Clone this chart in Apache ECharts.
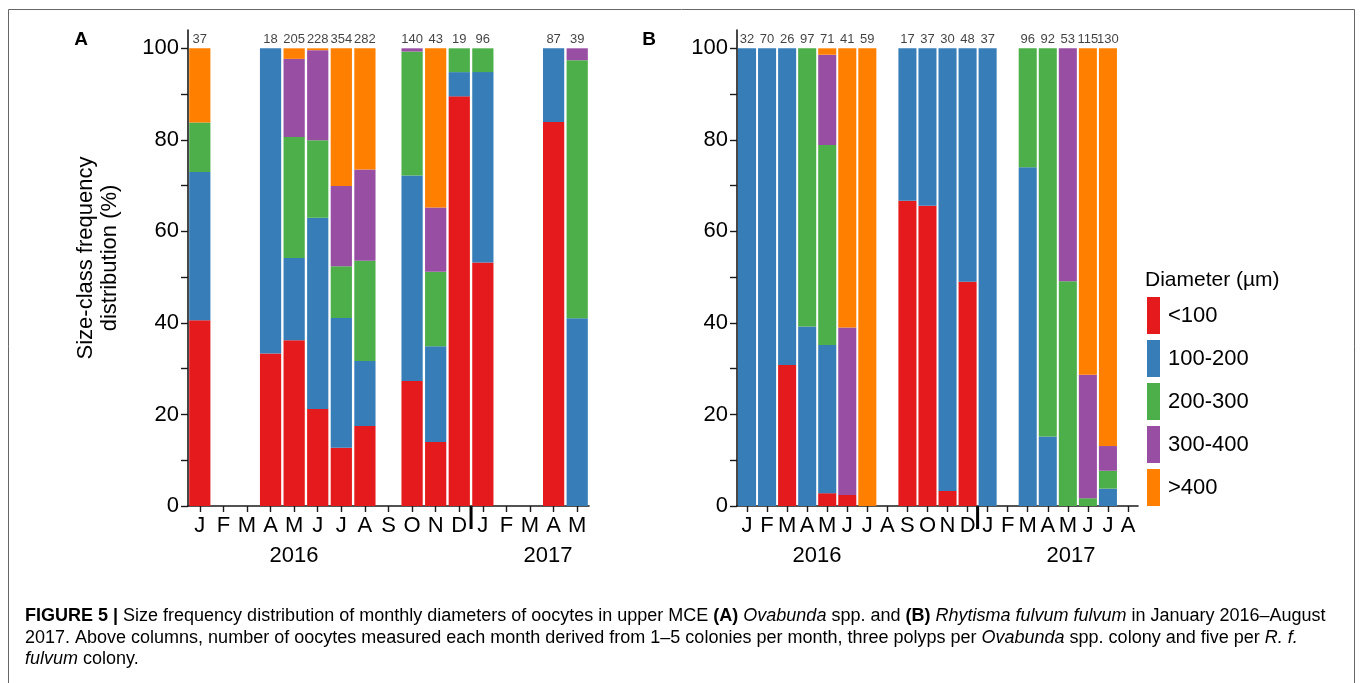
<!DOCTYPE html>
<html>
<head>
<meta charset="utf-8">
<script src="https://cdn.jsdelivr.net/npm/echarts@6/dist/echarts.min.js"></script>
<style>
html,body{margin:0;padding:0;background:#fff;}
#c{width:1360px;height:683px;}
</style>
</head>
<body>
<div id="c"></div>
<script>
// ---------- DATA ----------
const seriesNames = ['<100', '100-200', '200-300', '300-400', '>400'];
const colors = ['#E41A1C', '#377EB8', '#4DAF4A', '#984EA3', '#FF7F00'];

const monthsA = ['Jan16','Feb16','Mar16','Apr16','May16','Jun16','Jul16','Aug16','Sep16','Oct16','Nov16','Dec16',
                 'Jan17','Feb17','Mar17','Apr17','May17'];
const countsA = [37,null,null,18,205,228,354,282,null,140,43,19,96,null,null,87,39];
const aLt100  = [40.6,null,null,33.3,36.2,21.2,12.7,17.5,null,27.3,14.0,89.5,53.2,null,null,83.9,0];
const a100200 = [32.4,null,null,66.7,18.0,41.8,28.4,14.2,null,44.9,20.9,5.3,41.6,null,null,16.1,41.0];
const a200300 = [10.8,null,null,0,26.4,16.9,11.3,21.9,null,27.1,16.3,5.2,5.2,null,null,0,56.4];
const a300400 = [0,null,null,0,17.1,19.7,17.5,19.9,null,0.7,14.0,0,0,null,null,0,2.6];
const aGt400  = [16.2,null,null,0,2.3,0.4,30.1,26.5,null,0,34.8,0,0,null,null,0,0];

const monthsB = ['Jan16','Feb16','Mar16','Apr16','May16','Jun16','Jul16','Aug16','Sep16','Oct16','Nov16','Dec16',
                 'Jan17','Feb17','Mar17','Apr17','May17','Jun17','Jul17','Aug17'];
const countsB = [32,70,26,97,71,41,59,null,17,37,30,48,37,null,96,92,53,115,130,null];
const bLt100  = [0,0,30.8,0,2.8,2.4,0,null,66.7,65.6,3.3,49.0,0,null,0,0,0,0,0,null];
const b100200 = [100,100,69.2,39.2,32.4,0,0,null,33.3,34.4,96.7,51.0,100,null,74.0,15.2,0,0,3.8,null];
const b200300 = [0,0,0,60.8,43.7,0,0,null,0,0,0,0,0,null,26.0,84.8,49.1,1.7,3.9,null];
const b300400 = [0,0,0,0,19.7,36.6,0,null,0,0,0,0,0,null,0,0,50.9,27.0,5.4,null];
const bGt400  = [0,0,0,0,1.4,61.0,100,null,0,0,0,0,0,null,0,0,0,71.3,86.9,null];

const yTicks = [0,10,20,30,40,50,60,70,80,90,100];
const yLabels = [0,20,40,60,80,100];

// ---------- CHART ----------
const chart = echarts.init(document.getElementById('c'), null, {renderer: 'canvas'});
const FONT = 'Liberation Sans, Arial, Helvetica, sans-serif';
const AX = '#1a1a1a';

function xAxisCfg(idx, months) {
  return {
    type: 'category', gridIndex: idx, data: months,
    axisLine: {show: true, lineStyle: {color: AX, width: 1.6}},
    axisTick: {show: true, alignWithLabel: true, length: 6, lineStyle: {color: AX, width: 1.4}},
    axisLabel: {formatter: v => v.charAt(0), fontSize: 22, color: '#000', fontFamily: FONT, margin: 9, interval: 0}
  };
}
function yAxisCfg(idx) {
  return {
    type: 'value', gridIndex: idx, min: 0, max: 104,
    splitLine: {show: false},
    axisLine: {show: true, lineStyle: {color: AX, width: 1.6}},
    axisTick: {show: true, length: 7, lineStyle: {color: AX, width: 1.4}, customValues: yTicks},
    axisLabel: {fontSize: 22, color: '#000', fontFamily: FONT, margin: 9, customValues: yLabels}
  };
}

const dataA = [aLt100, a100200, a200300, a300400, aGt400];
const dataB = [bLt100, b100200, b200300, b300400, bGt400];
const series = [];
[dataA, dataB].forEach((set, gi) => {
  set.forEach((arr, si) => {
    series.push({
      name: seriesNames[si], type: 'bar', stack: 'p' + gi,
      xAxisIndex: gi, yAxisIndex: gi, data: arr,
      barCategoryGap: '10%',
      itemStyle: {color: colors[si]},
      emphasis: {disabled: true}
    });
  });
});
[countsA, countsB].forEach((cnt, gi) => {
  series.push({
    type: 'scatter', xAxisIndex: gi, yAxisIndex: gi,
    data: cnt.map(c => c == null ? null : 100),
    symbolSize: 1, itemStyle: {color: 'rgba(0,0,0,0)'},
    label: {show: true, position: 'top', distance: 2, fontSize: 13, color: '#111', fontFamily: FONT,
            formatter: p => String(cnt[p.dataIndex])},
    silent: true, z: 10
  });
});

const capRich = {
  n: {fontSize: 18, fontFamily: FONT, color: '#3a3a3a'},
  b: {fontSize: 18, fontFamily: FONT, color: '#222', fontWeight: 'bold'},
  i: {fontSize: 18, fontFamily: FONT, color: '#3a3a3a', fontStyle: 'italic'}
};

chart.setOption({
  animation: false,
  backgroundColor: '#fff',
  grid: [
    {left: 188, top: 30, width: 401, height: 476},
    {left: 737, top: 30, width: 401, height: 476}
  ],
  xAxis: [xAxisCfg(0, monthsA), xAxisCfg(1, monthsB)],
  yAxis: [yAxisCfg(0), yAxisCfg(1)],
  legend: {
    data: seriesNames, orient: 'vertical', left: 1147, top: 297, padding: 0,
    icon: 'rect', itemWidth: 13, itemHeight: 37, itemGap: 6,
    selectedMode: false,
    textStyle: {fontSize: 22, color: '#000', fontFamily: FONT, padding: [0, 0, 0, 3]}
  },
  series: series
});

function px(axisIdx, months, i) {
  return chart.convertToPixel({xAxisIndex: axisIdx}, months[i]);
}
const divA = (px(0, monthsA, 11) + px(0, monthsA, 12)) / 2;
const divB = (px(1, monthsB, 11) + px(1, monthsB, 12)) / 2;
const y0 = chart.convertToPixel({yAxisIndex: 0}, 0);

chart.setOption({
  graphic: [
    {type: 'rect', shape: {x: 8.5, y: 9.5, width: 1346, height: 700}, style: {fill: 'none', stroke: '#666', lineWidth: 1}, silent: true},
    {type: 'line', shape: {x1: divA, y1: y0, x2: divA, y2: y0 + 23}, style: {stroke: '#000', lineWidth: 3}},
    {type: 'line', shape: {x1: divB, y1: y0, x2: divB, y2: y0 + 23}, style: {stroke: '#000', lineWidth: 3}},
    {type: 'text', x: 81, y: 40, style: {text: 'A', fontSize: 19, fontWeight: 'bold', fontFamily: FONT, fill: '#000', align: 'center', verticalAlign: 'middle'}},
    {type: 'text', x: 649, y: 40, style: {text: 'B', fontSize: 19, fontWeight: 'bold', fontFamily: FONT, fill: '#000', align: 'center', verticalAlign: 'middle'}},
    {type: 'text', x: 98, y: 258, rotation: Math.PI / 2,
     style: {text: 'Size-class frequency\ndistribution (%)', fontSize: 22, lineHeight: 24, fontFamily: FONT, fill: '#000', align: 'center', verticalAlign: 'middle'}},
    {type: 'text', x: 294, y: 556, style: {text: '2016', fontSize: 22, fontFamily: FONT, fill: '#000', align: 'center', verticalAlign: 'middle'}},
    {type: 'text', x: 548, y: 556, style: {text: '2017', fontSize: 22, fontFamily: FONT, fill: '#000', align: 'center', verticalAlign: 'middle'}},
    {type: 'text', x: 817, y: 556, style: {text: '2016', fontSize: 22, fontFamily: FONT, fill: '#000', align: 'center', verticalAlign: 'middle'}},
    {type: 'text', x: 1071, y: 556, style: {text: '2017', fontSize: 22, fontFamily: FONT, fill: '#000', align: 'center', verticalAlign: 'middle'}},
    {type: 'text', x: 1145, y: 280, style: {text: 'Diameter (µm)', fontSize: 21, fontFamily: FONT, fill: '#000', align: 'left', verticalAlign: 'middle'}},
    {type: 'text', x: 25, y: 616, style: {
      text: '{b|FIGURE 5 | }{n|Size frequency distribution of monthly diameters of oocytes in upper MCE }{b|(A) }{i|Ovabunda}{n| spp. and }{b|(B) }{i|Rhytisma fulvum fulvum}{n| in January 2016–August}',
      rich: capRich, verticalAlign: 'middle'}},
    {type: 'text', x: 25, y: 638, style: {
      text: '{n|2017. Above columns, number of oocytes measured each month derived from 1–5 colonies per month, three polyps per }{i|Ovabunda}{n| spp. colony and five per }{i|R. f.}',
      rich: capRich, verticalAlign: 'middle'}},
    {type: 'text', x: 25, y: 659, style: {
      text: '{i|fulvum}{n| colony.}',
      rich: capRich, verticalAlign: 'middle'}}
  ]
});
</script>
</body>
</html>
